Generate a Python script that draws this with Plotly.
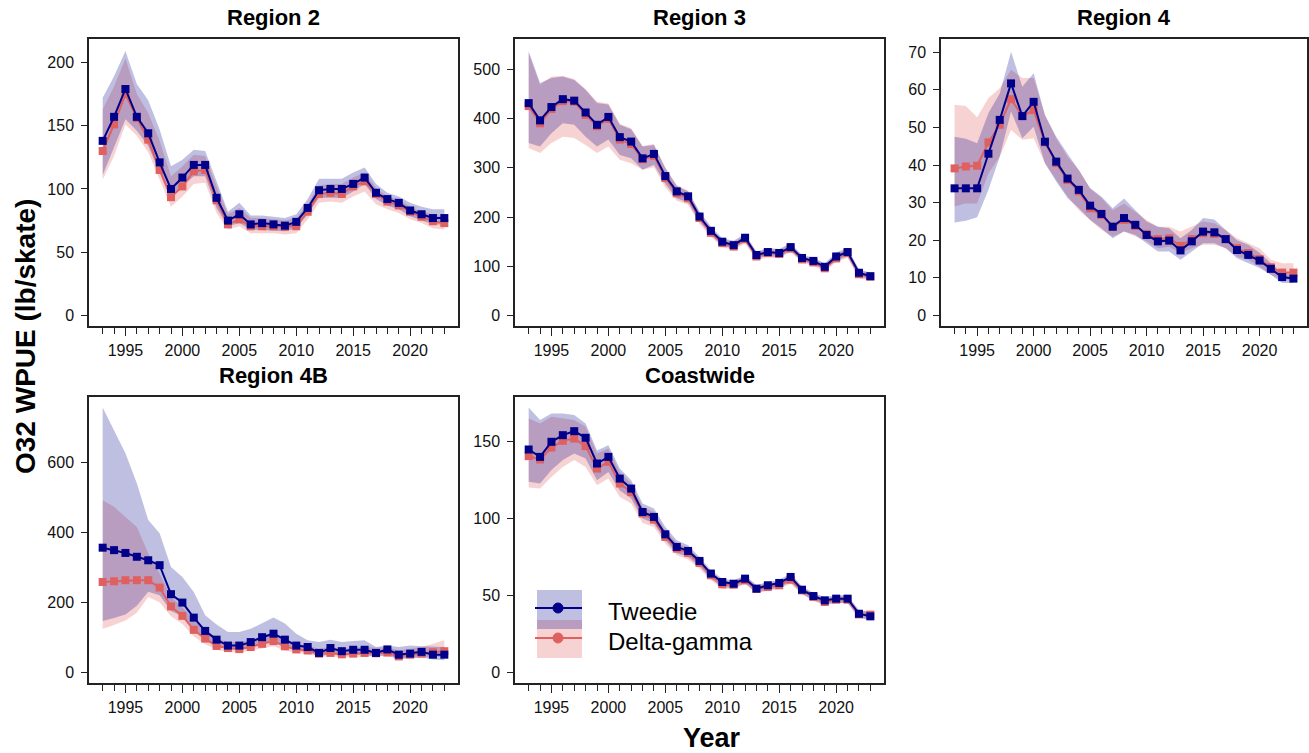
import plotly.graph_objects as go

years = list(range(1993, 2024))
panel_titles = ["Region 2", "Region 3", "Region 4", "Region 4B", "Coastwide"]
series_names = ["Tweedie", "Delta-gamma"]

# ---------------- Region 2 ----------------
r2_tw = [138,157,179,157,144,121,100,109,119,119,93,75,80,72,73,72,71,74,85,99,100,100,104,109,97,92,89,83,80,77,77]
r2_tw_lo = [111,133,155,146,134,113,94,102,110,110,85,70.5,73,68,68,67,66.5,69,80,93,93,93,98,104,92,87,84,78.5,75,72,72]
r2_tw_hi = [172,189,209,183,170,147,118,123,131,130,106,82,89,79,79,78,77,80,92,108,108,108,113,117,104,97,94,89,86,84,84]
r2_dg = [130,151,175,156,139,115,93.5,102,114,115,91,72,76,70.5,70.5,70.5,70,70.5,82,96,97,96,102,106,96,90,87,82,78,74.5,73]
r2_dg_lo = [107.5,126,151,142,129,107.5,86,94,104,105,81,68,70.5,65,65,65,64,65,76,89,90,89,94,98,88,84,81,76,73,69,68]
r2_dg_hi = [163,181,203,175,160,138,110,118,127,126,102,80,85,77,77,76,75,77,88,103,104,104,109,113,101,94,92,86,82,80,78]

# ---------------- Region 3 ----------------
r3_tw = [431,396,423,439,436,412,387,403,362,353,319,328,283,252,242,201,172,150,143,158,123,129,127,139,117,111,99,120,129,87,80]
r3_tw_lo = [350,343,370,390,387,363,343,357,326,319,296,306,267,238,229,191,164,141,136,150,116,121,118,132,110,104,93,112,120,79,74]
r3_tw_hi = [536,472,482,485,478,458,431,428,387,378,343,346,299,263,252,211,181,157,152,166,130,137,135,147,123,118,106,128,137,94,87]
r3_dg = [425,390,419,435,434,407,384,399,357,348,317,324,279,248,238,198,168,147,140,155,120,127,125,136,114,108,96,116,127,84,79]
r3_dg_lo = [340,330,350,363,360,346,330,343,316,309,296,301,260,233,225,186,160,139,133,147,113,118,116,129,108,101,89,109,117,76,71]
r3_dg_hi = [532,468,485,486,480,459,434,430,389,380,344,348,301,265,254,209,177,155,150,163,128,135,133,145,121,116,104,125,135,91,87]

# ---------------- Region 4 ----------------
r4_tw = [33.8,33.8,33.8,43,52,61.7,53,56.8,46.2,40.9,36.4,33.4,29.2,27,23.6,25.9,24.1,21.4,19.7,19.9,17.3,19.7,22.3,22.1,20.3,17.4,16.1,14.6,12.4,10.2,9.8]
r4_tw_lo = [24.7,25.2,26.1,33.4,42.2,54.2,47.1,50.2,40.5,35.6,31.2,28.5,25.4,23.2,20.5,22.3,21.4,19.2,17,17,14.8,17,19.2,19.2,17.9,15.2,13.9,12.6,10.8,8.6,8.6]
r4_tw_hi = [47.5,47,45.8,53.8,59,70.1,60.8,64.4,53.3,47.5,43,38.7,33.8,31.6,28.5,31.1,28,25,23.6,23.2,20.5,22.7,25.9,25.5,22.7,20,18.8,16.7,13.9,11.4,10.8]
r4_dg = [39.1,39.6,39.8,46,50.7,57.5,53,54.6,46,40.5,36,33,28.5,26.7,23.6,25.4,23.8,21.7,20.3,20.5,18.5,20.3,21.9,21.7,20.3,17.9,16.6,15,12.8,11.4,11.4]
r4_dg_lo = [29,29.8,29.8,37.8,42.2,49.3,46.7,47.1,40.5,36,31.6,28,25.4,22.7,21,22.3,21,19.7,17.9,18.3,16.6,17.9,18.8,18.8,17.9,15.7,14.8,13,10.8,9.5,9.3]
r4_dg_hi = [56,55.7,52.7,57.8,60.4,65.3,63.1,63.1,53.3,47.1,42.2,38.7,33.8,31.2,28,29.8,27.6,25.4,23.6,23.6,22.3,23.6,25,24.5,22.7,20.5,19.2,17.9,14.8,13.9,13.9]

# ---------------- Region 4B ----------------
r4b_tw = [356,349,341,330,320,306,223,199,156,118,93,76,76,86,100,110,93,76,72,55,69,60,64,64,55,65,50,53,58,50,50]
r4b_tw_lo = [146,155,165,190,230,220,175,160,125,95,75,65,65,72,80,88,75,62,58,45,52,46,50,50,44,50,38,40,42,36,34]
r4b_tw_hi = [757,693,626,540,435,397,301,272,229,163,136,115,115,124,140,156,139,110,91,86,93,86,89,91,72,76,72,76,74,72,72]
r4b_dg = [258,260,263,263,263,242,188,161,121,96,75,69,66,72,81,89,74,65,62,53,55,51,53,55,54,56,45,50,53,57,60]
r4b_dg_lo = [124,135,148,170,215,200,160,138,102,80,64,58,56,61,68,74,62,55,52,44,46,42,44,46,45,46,37,41,43,45,45]
r4b_dg_hi = [492,473,444,415,340,282,215,186,148,115,96,86,86,91,105,110,96,81,76,67,72,67,70,72,70,72,62,67,72,81,91]

# ---------------- Coastwide ----------------
cw_tw = [144.6,139.8,149.6,153.9,156.5,152.2,135.5,139.8,125.7,119.2,104,100.8,89.5,81.3,78.7,72.2,64,58.5,57.4,60.7,54.2,56.4,57.9,61.8,53.5,49.4,46.6,47.7,47.7,37.9,36.2]
cw_tw_lo = [123.6,122.5,131.2,137.7,142,138.7,124.6,130,118,112.7,99.7,96.5,85.6,77.4,74.8,68.7,60.7,55.3,54.8,57.9,51.4,53.5,54.8,58.5,50.9,46.6,44,44.9,44.9,35.3,33.6]
cw_tw_hi = [171.9,163.7,168,168,167,161.5,144,147.4,132.2,124.6,109.5,106.2,94.3,85.6,82.4,74.8,66.1,60.7,59.6,62.9,56.4,58.5,60,64,55.7,51.4,48.8,49.9,49.9,40.1,39]
cw_dg = [140.3,138.1,145.9,150.2,151.7,146.8,132.2,136.6,122.5,117,103,99,87.8,80.2,77.4,70.9,62.9,57,56.8,59.6,54,55.3,56.4,60,53.1,48.8,45.5,47,47,37.5,37.3]
cw_dg_lo = [119.9,119.2,126.8,133.3,137.7,133.3,121.4,125.7,113.8,109.5,96.9,94.3,83.5,75.9,73.1,67.2,59.6,54.2,54,57,51.4,52.7,54,57.4,50.5,46.2,43.4,44.9,44.9,35.3,34.7]
cw_dg_hi = [164.8,161.5,165.8,164.8,163.7,159.3,142,145.2,130,122.5,107.3,104,92.1,83.9,80.8,73.7,65,59.2,59,62.2,56.4,57.4,59,62.9,55.3,50.9,47.7,49.2,49.2,39.7,39.7]

y_ticks = [
    [0, 50, 100, 150, 200],
    [0, 100, 200, 300, 400, 500],
    [0, 10, 20, 30, 40, 50, 60, 70],
    [0, 200, 400, 600],
    [0, 50, 100, 150],
]
x_tick_labels = [1995, 2000, 2005, 2010, 2015, 2020]

panels = [
    (r2_tw, r2_tw_lo, r2_tw_hi, r2_dg, r2_dg_lo, r2_dg_hi),
    (r3_tw, r3_tw_lo, r3_tw_hi, r3_dg, r3_dg_lo, r3_dg_hi),
    (r4_tw, r4_tw_lo, r4_tw_hi, r4_dg, r4_dg_lo, r4_dg_hi),
    (r4b_tw, r4b_tw_lo, r4b_tw_hi, r4b_dg, r4b_dg_lo, r4b_dg_hi),
    (cw_tw, cw_tw_lo, cw_tw_hi, cw_dg, cw_dg_lo, cw_dg_hi),
]

# ---------------- styling / layout ----------------
W, H = 1309, 753
FONT = "Arial, Liberation Sans, sans-serif"
TW_LINE = "#00008B"
DG_LINE = "#E06060"
TW_FILL = "rgba(0,0,139,0.25)"
DG_FILL = "rgba(225,90,90,0.27)"

# panel boxes in pixels: (left, right, top, bottom)
boxes = [
    (89, 458, 39, 326),
    (515, 884, 39, 326),
    (941, 1307, 39, 326),
    (89, 458, 397, 683),
    (515, 884, 397, 683),
]
title_y_px = [18, 18, 18, 375, 375]
y_ranges = [[-8.3, 218.5], [-21, 561], [-2.8, 73.5], [-31, 787], [-7.1, 178.7]]
x_range = [1991.8, 2024.2]

fig = go.Figure()

for i, (tw, tw_lo, tw_hi, dg, dg_lo, dg_hi) in enumerate(panels):
    xa = "x" if i == 0 else f"x{i+1}"
    ya = "y" if i == 0 else f"y{i+1}"
    band_x = years + years[::-1]
    fig.add_trace(go.Scatter(x=band_x, y=dg_hi + dg_lo[::-1], fill="toself",
                             fillcolor=DG_FILL, line=dict(width=0), mode="lines",
                             hoverinfo="skip", showlegend=False, xaxis=xa, yaxis=ya))
    fig.add_trace(go.Scatter(x=band_x, y=tw_hi + tw_lo[::-1], fill="toself",
                             fillcolor=TW_FILL, line=dict(width=0), mode="lines",
                             hoverinfo="skip", showlegend=False, xaxis=xa, yaxis=ya))
    fig.add_trace(go.Scatter(x=years, y=dg, mode="lines+markers", name=series_names[1],
                             line=dict(color=DG_LINE, width=2),
                             marker=dict(symbol="square", size=8, color=DG_LINE),
                             showlegend=False, xaxis=xa, yaxis=ya))
    fig.add_trace(go.Scatter(x=years, y=tw, mode="lines+markers", name=series_names[0],
                             line=dict(color=TW_LINE, width=2),
                             marker=dict(symbol="square", size=8, color=TW_LINE),
                             showlegend=False, xaxis=xa, yaxis=ya))

layout = dict(
    width=W, height=H, autosize=False,
    margin=dict(l=0, r=0, t=0, b=0, pad=0),
    paper_bgcolor="white", plot_bgcolor="white",
    font=dict(family=FONT, color="#111111"),
    showlegend=False,
)

annotations = []
for i, (l, r, t, b) in enumerate(boxes):
    xk = "xaxis" if i == 0 else f"xaxis{i+1}"
    yk = "yaxis" if i == 0 else f"yaxis{i+1}"
    xa = "x" if i == 0 else f"x{i+1}"
    ya = "y" if i == 0 else f"y{i+1}"
    layout[xk] = dict(
        domain=[l / W, r / W], anchor=ya, range=x_range,
        showline=True, mirror=True, linecolor="#222222", linewidth=1.5,
        showgrid=False, zeroline=False,
        tickmode="array", tickvals=x_tick_labels, ticktext=[str(v) for v in x_tick_labels],
        ticks="outside", ticklen=8, tickwidth=1.2, tickcolor="#222222",
        minor=dict(ticks="outside", ticklen=6, tickwidth=1.2, tickcolor="#222222",
                   tickmode="array", tickvals=years),
        tickfont=dict(size=16, family=FONT, color="#111111"),
        ticklabelstandoff=1,
    )
    layout[yk] = dict(
        domain=[1 - b / H, 1 - t / H], anchor=xa, range=y_ranges[i],
        showline=True, mirror=True, linecolor="#222222", linewidth=1.5,
        showgrid=False, zeroline=False,
        tickmode="array", tickvals=y_ticks[i], ticktext=[str(v) for v in y_ticks[i]],
        ticks="outside", ticklen=6, tickwidth=1.2, tickcolor="#222222",
        tickfont=dict(size=16, family=FONT, color="#111111"),
        ticklabelstandoff=4,
    )
    annotations.append(dict(
        text=f"<b>{panel_titles[i]}</b>", xref=f"{xa} domain", yref="paper",
        x=0.5, y=1 - title_y_px[i] / H, xanchor="center", yanchor="middle", showarrow=False,
        font=dict(size=22, family=FONT, color="black"),
    ))

annotations.append(dict(
    text="<b>O32 WPUE (lb/skate)</b>", xref="paper", yref="paper",
    x=25 / W, y=1 - 337 / H, xanchor="center", yanchor="middle", textangle=-90,
    showarrow=False, font=dict(size=28, family=FONT, color="black"),
))
annotations.append(dict(
    text="<b>Year</b>", xref="paper", yref="paper",
    x=712 / W, y=1 - 738 / H, xanchor="center", yanchor="middle",
    showarrow=False, font=dict(size=27, family=FONT, color="black"),
))

# legend drawn inside the Coastwide panel
annotations.append(dict(
    text=series_names[0], xref="paper", yref="paper", x=606 / W, y=1 - 611 / H,
    xanchor="left", yanchor="middle", showarrow=False,
    font=dict(size=24, family=FONT, color="black"),
))
annotations.append(dict(
    text=series_names[1], xref="paper", yref="paper", x=606 / W, y=1 - 641 / H,
    xanchor="left", yanchor="middle", showarrow=False,
    font=dict(size=24, family=FONT, color="black"),
))

shapes = [
    dict(type="rect", xref="paper", yref="paper", x0=537 / W, x1=582 / W,
         y0=1 - 658 / H, y1=1 - 620 / H, fillcolor=DG_FILL, line=dict(width=0), layer="above"),
    dict(type="rect", xref="paper", yref="paper", x0=537 / W, x1=582 / W,
         y0=1 - 629 / H, y1=1 - 590 / H, fillcolor=TW_FILL, line=dict(width=0), layer="above"),
    dict(type="line", xref="paper", yref="paper", x0=535 / W, x1=582 / W,
         y0=1 - 608 / H, y1=1 - 608 / H, line=dict(color=TW_LINE, width=2), layer="above"),
    dict(type="line", xref="paper", yref="paper", x0=535 / W, x1=582 / W,
         y0=1 - 638 / H, y1=1 - 638 / H, line=dict(color=DG_LINE, width=2), layer="above"),
    dict(type="circle", xref="paper", yref="paper", xsizemode="pixel", ysizemode="pixel",
         xanchor=558 / W, yanchor=1 - 608 / H, x0=-5, x1=5, y0=-5, y1=5,
         fillcolor=TW_LINE, line=dict(color=TW_LINE, width=1), layer="above"),
    dict(type="circle", xref="paper", yref="paper", xsizemode="pixel", ysizemode="pixel",
         xanchor=558 / W, yanchor=1 - 638 / H, x0=-5, x1=5, y0=-5, y1=5,
         fillcolor=DG_LINE, line=dict(color=DG_LINE, width=1), layer="above"),
]

layout["annotations"] = annotations
layout["shapes"] = shapes
fig.update_layout(**layout)

fig.write_html("out.html", config={"displayModeBar": False},
               post_script="document.body.style.margin='0px';")
